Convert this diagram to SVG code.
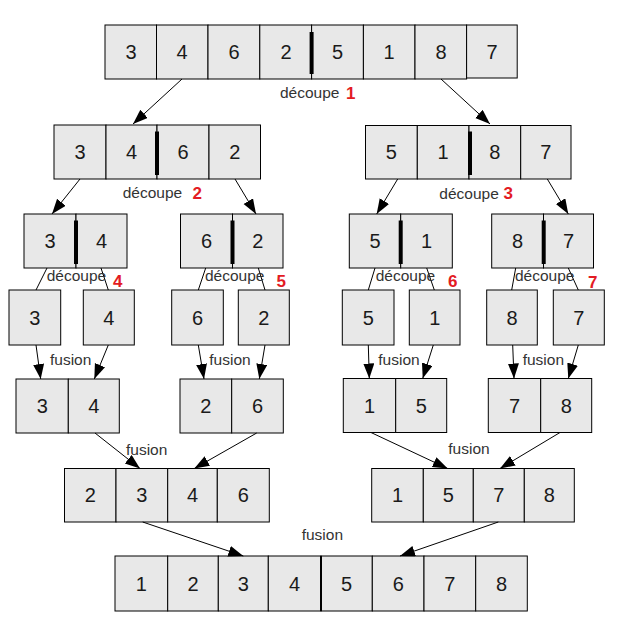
<svg xmlns="http://www.w3.org/2000/svg" width="623" height="634" viewBox="0 0 623 634">
<style>
.c{fill:#e8e8e8;stroke:#000;stroke-width:1}
.d{font-family:"Liberation Sans",Arial,sans-serif;font-size:20px;fill:#1a1a1a;text-anchor:middle}
.bar{stroke:#000;stroke-width:4}
.ln{stroke:#000;stroke-width:1;fill:none}
.ar{stroke:#000;stroke-width:1;fill:none;marker-end:url(#ah)}
.lb{font-family:"Liberation Sans",Arial,sans-serif;font-size:15.5px;fill:#333}
.r{font-family:"Liberation Sans",Arial,sans-serif;font-size:17px;font-weight:bold;fill:#e31b23}
</style>
<defs>
<marker id="ah" markerUnits="userSpaceOnUse" markerWidth="16" markerHeight="12" refX="15" refY="5.5" orient="auto">
<path d="M0,0 L15,5.5 L0,11 z" fill="#000"/>
</marker>
</defs>
<rect width="623" height="634" fill="#fff"/>

<g id="n1">
<rect class="c" x="105" y="25" width="51.5" height="54"/><rect class="c" x="156.5" y="25" width="51.5" height="54"/><rect class="c" x="208" y="25" width="51.8" height="54"/><rect class="c" x="259.8" y="25" width="51.8" height="54"/><rect class="c" x="311.6" y="25" width="51.8" height="54"/><rect class="c" x="363.4" y="25" width="51.6" height="54"/><rect class="c" x="415" y="25" width="51.6" height="54"/><rect class="c" x="466.6" y="25" width="50.6" height="53"/>
<text class="d" x="131" y="59">3</text><text class="d" x="182" y="59">4</text><text class="d" x="234" y="59">6</text><text class="d" x="286" y="59">2</text><text class="d" x="337.5" y="59">5</text><text class="d" x="389" y="59">1</text><text class="d" x="441" y="59">8</text><text class="d" x="492" y="59">7</text>
<line class="bar" x1="311.6" y1="32" x2="311.6" y2="74"/>
</g>

<g id="n2l">
<rect class="c" x="54" y="125" width="52" height="54"/><rect class="c" x="106" y="125" width="51" height="54"/><rect class="c" x="157" y="125" width="52" height="54"/><rect class="c" x="209" y="125" width="51.5" height="54"/>
<text class="d" x="80" y="159">3</text><text class="d" x="131.5" y="159">4</text><text class="d" x="183" y="159">6</text><text class="d" x="234.7" y="159">2</text>
<line class="bar" x1="157" y1="131.5" x2="157" y2="175"/>
</g>

<g id="n2r">
<rect class="c" x="365.5" y="125.5" width="51.8" height="53.5"/><rect class="c" x="417.3" y="125.5" width="51.7" height="53.5"/><rect class="c" x="469" y="125.5" width="51.7" height="53.5"/><rect class="c" x="520.7" y="125.5" width="50.3" height="53.5"/>
<text class="d" x="391.4" y="159">5</text><text class="d" x="443" y="159">1</text><text class="d" x="494.8" y="159">8</text><text class="d" x="545.8" y="159">7</text>
<line class="bar" x1="470" y1="131.5" x2="470" y2="175"/>
</g>

<g id="n3a">
<rect class="c" x="24" y="214" width="52" height="54"/><rect class="c" x="76" y="214" width="51" height="54"/>
<text class="d" x="50" y="248">3</text><text class="d" x="101.5" y="248">4</text>
<line class="bar" x1="76" y1="220.5" x2="76" y2="264"/>
</g>
<g id="n3b">
<rect class="c" x="180.5" y="214" width="52" height="54"/><rect class="c" x="232.5" y="214" width="50.5" height="54"/>
<text class="d" x="206.5" y="248">6</text><text class="d" x="257.7" y="248">2</text>
<line class="bar" x1="232.5" y1="220.5" x2="232.5" y2="264"/>
</g>
<g id="n3c">
<rect class="c" x="349.3" y="214" width="51.4" height="54"/><rect class="c" x="400.7" y="214" width="51.6" height="54"/>
<text class="d" x="375" y="248">5</text><text class="d" x="426.5" y="248">1</text>
<line class="bar" x1="400.7" y1="220.5" x2="400.7" y2="264"/>
</g>
<g id="n3d">
<rect class="c" x="491.7" y="214" width="51.8" height="54"/><rect class="c" x="543.5" y="214" width="50" height="54"/>
<text class="d" x="517.6" y="248">8</text><text class="d" x="568.5" y="248">7</text>
<line class="bar" x1="543.7" y1="220.5" x2="543.7" y2="264"/>
</g>

<g id="n4a"><rect class="c" x="9" y="290" width="51.7" height="55"/><text class="d" x="34.8" y="325">3</text></g>
<g id="n4b"><rect class="c" x="83.3" y="290" width="51" height="55"/><text class="d" x="108.8" y="325">4</text></g>
<g id="n4c"><rect class="c" x="171.7" y="290" width="51.6" height="55"/><text class="d" x="197.5" y="325">6</text></g>
<g id="n4d"><rect class="c" x="238.3" y="290" width="51" height="55"/><text class="d" x="263.8" y="325">2</text></g>
<g id="n4e"><rect class="c" x="342.3" y="290" width="51.7" height="55"/><text class="d" x="368.2" y="325">5</text></g>
<g id="n4f"><rect class="c" x="409.3" y="290" width="50.7" height="55"/><text class="d" x="434.7" y="325">1</text></g>
<g id="n4g"><rect class="c" x="486.7" y="290" width="50.6" height="55"/><text class="d" x="512" y="325">8</text></g>
<g id="n4h"><rect class="c" x="553.3" y="290" width="51" height="55"/><text class="d" x="578.8" y="325">7</text></g>

<g id="n5a">
<rect class="c" x="16" y="379" width="52.3" height="54"/><rect class="c" x="68.3" y="379" width="51" height="54"/>
<text class="d" x="42.2" y="413">3</text><text class="d" x="93.8" y="413">4</text>
</g>
<g id="n5b">
<rect class="c" x="180" y="379" width="51.7" height="54"/><rect class="c" x="231.7" y="379" width="51.6" height="54"/>
<text class="d" x="205.8" y="413">2</text><text class="d" x="257.5" y="413">6</text>
</g>
<g id="n5c">
<rect class="c" x="343.3" y="378.5" width="52.4" height="54"/><rect class="c" x="395.7" y="378.5" width="51" height="54"/>
<text class="d" x="369.5" y="412.5">1</text><text class="d" x="421.2" y="412.5">5</text>
</g>
<g id="n5d">
<rect class="c" x="488.3" y="378.5" width="52.4" height="54"/><rect class="c" x="540.7" y="378.5" width="51" height="54"/>
<text class="d" x="514.5" y="412.5">7</text><text class="d" x="566.2" y="412.5">8</text>
</g>

<g id="n6l">
<rect class="c" x="64.5" y="468.5" width="51.5" height="53.5"/><rect class="c" x="116" y="468.5" width="51.7" height="53.5"/><rect class="c" x="167.7" y="468.5" width="49.6" height="53.5"/><rect class="c" x="217.3" y="468.5" width="52" height="53.5"/>
<text class="d" x="90.2" y="502">2</text><text class="d" x="141.8" y="502">3</text><text class="d" x="192.5" y="502">4</text><text class="d" x="243.3" y="502">6</text>
</g>
<g id="n6r">
<rect class="c" x="371.7" y="468.5" width="51.6" height="53.5"/><rect class="c" x="423.3" y="468.5" width="50" height="53.5"/><rect class="c" x="473.3" y="468.5" width="51" height="53.5"/><rect class="c" x="524.3" y="468.5" width="50" height="53.5"/>
<text class="d" x="397.5" y="502">1</text><text class="d" x="448.3" y="502">5</text><text class="d" x="498.8" y="502">7</text><text class="d" x="549.3" y="502">8</text>
</g>

<g id="n7">
<rect class="c" x="115" y="556" width="52.7" height="55"/><rect class="c" x="167.7" y="556" width="50.6" height="55"/><rect class="c" x="218.3" y="556" width="50" height="55"/><rect class="c" x="268.3" y="556" width="52.7" height="55"/><rect class="c" x="321" y="556" width="51.3" height="55"/><rect class="c" x="372.3" y="556" width="51.7" height="55"/><rect class="c" x="424" y="556" width="51.7" height="55"/><rect class="c" x="475.7" y="556" width="51.6" height="55"/>
<text class="d" x="141.3" y="591">1</text><text class="d" x="193" y="591">2</text><text class="d" x="243.3" y="591">3</text><text class="d" x="294.6" y="591">4</text><text class="d" x="346.6" y="591">5</text><text class="d" x="398.2" y="591">6</text><text class="d" x="449.8" y="591">7</text><text class="d" x="501.5" y="591">8</text>
<line x1="321" y1="556" x2="321" y2="611" stroke="#000" stroke-width="2"/>
</g>

<g id="connectors">
<line class="ar" x1="182" y1="79" x2="133" y2="124"/>
<line class="ar" x1="441" y1="79" x2="490" y2="124"/>
<line class="ar" x1="80" y1="179" x2="52" y2="214"/>
<line class="ar" x1="235" y1="179" x2="256" y2="214"/>
<line class="ar" x1="397.7" y1="179" x2="376.7" y2="214"/>
<line class="ar" x1="547.3" y1="179" x2="568.3" y2="214"/>
<line class="ln" x1="47" y1="268" x2="36" y2="290"/>
<line class="ln" x1="101" y1="268" x2="108.3" y2="290"/>
<line class="ln" x1="205.7" y1="268" x2="198.3" y2="290"/>
<line class="ln" x1="258.3" y1="268" x2="265" y2="290"/>
<line class="ln" x1="375" y1="268" x2="368.3" y2="290"/>
<line class="ln" x1="426.7" y1="268" x2="434.3" y2="290"/>
<line class="ln" x1="515.7" y1="268" x2="511.7" y2="290"/>
<line class="ln" x1="568.3" y1="268" x2="578.3" y2="290"/>
<line class="ar" x1="36" y1="345" x2="40.7" y2="379"/>
<line class="ar" x1="108.3" y1="345" x2="94.3" y2="379"/>
<line class="ar" x1="198.3" y1="345" x2="204" y2="379"/>
<line class="ar" x1="265" y1="345" x2="259.3" y2="379"/>
<line class="ar" x1="368.3" y1="345" x2="369.3" y2="378.5"/>
<line class="ar" x1="433.3" y1="345" x2="422.7" y2="378.5"/>
<line class="ar" x1="512.7" y1="345" x2="514" y2="378.5"/>
<line class="ar" x1="578.3" y1="345" x2="568.3" y2="378.5"/>
<line class="ar" x1="95" y1="433" x2="140" y2="468.5"/>
<line class="ar" x1="256.7" y1="433" x2="194.3" y2="468.5"/>
<line class="ar" x1="371" y1="432.5" x2="447.7" y2="468.5"/>
<line class="ar" x1="560" y1="432.5" x2="500" y2="468.5"/>
<line class="ar" x1="142.7" y1="522" x2="243.3" y2="556"/>
<line class="ar" x1="498.3" y1="522" x2="400" y2="556"/>
</g>

<g id="labels">
<text class="lb" x="280" y="98">découpe</text><text class="r" x="346" y="99" font-weight="normal">1</text>
<text class="lb" x="122.7" y="198">découpe</text><text class="r" x="192.5" y="199">2</text>
<text class="lb" x="439.3" y="199">découpe</text><text class="r" x="503.5" y="199" font-weight="normal">3</text>
<text class="lb" x="46.7" y="281">découpe</text><text class="r" x="113" y="287">4</text>
<text class="lb" x="205" y="281">découpe</text><text class="r" x="276.5" y="287">5</text>
<text class="lb" x="375.7" y="281">découpe</text><text class="r" x="448" y="287">6</text>
<text class="lb" x="515" y="281">découpe</text><text class="r" x="588" y="288">7</text>
<text class="lb" x="50" y="365">fusion</text>
<text class="lb" x="209.3" y="365">fusion</text>
<text class="lb" x="378.3" y="365">fusion</text>
<text class="lb" x="522.7" y="365">fusion</text>
<text class="lb" x="126" y="455">fusion</text>
<text class="lb" x="448.3" y="453.5">fusion</text>
<text class="lb" x="301.7" y="540">fusion</text>
</g>
</svg>
